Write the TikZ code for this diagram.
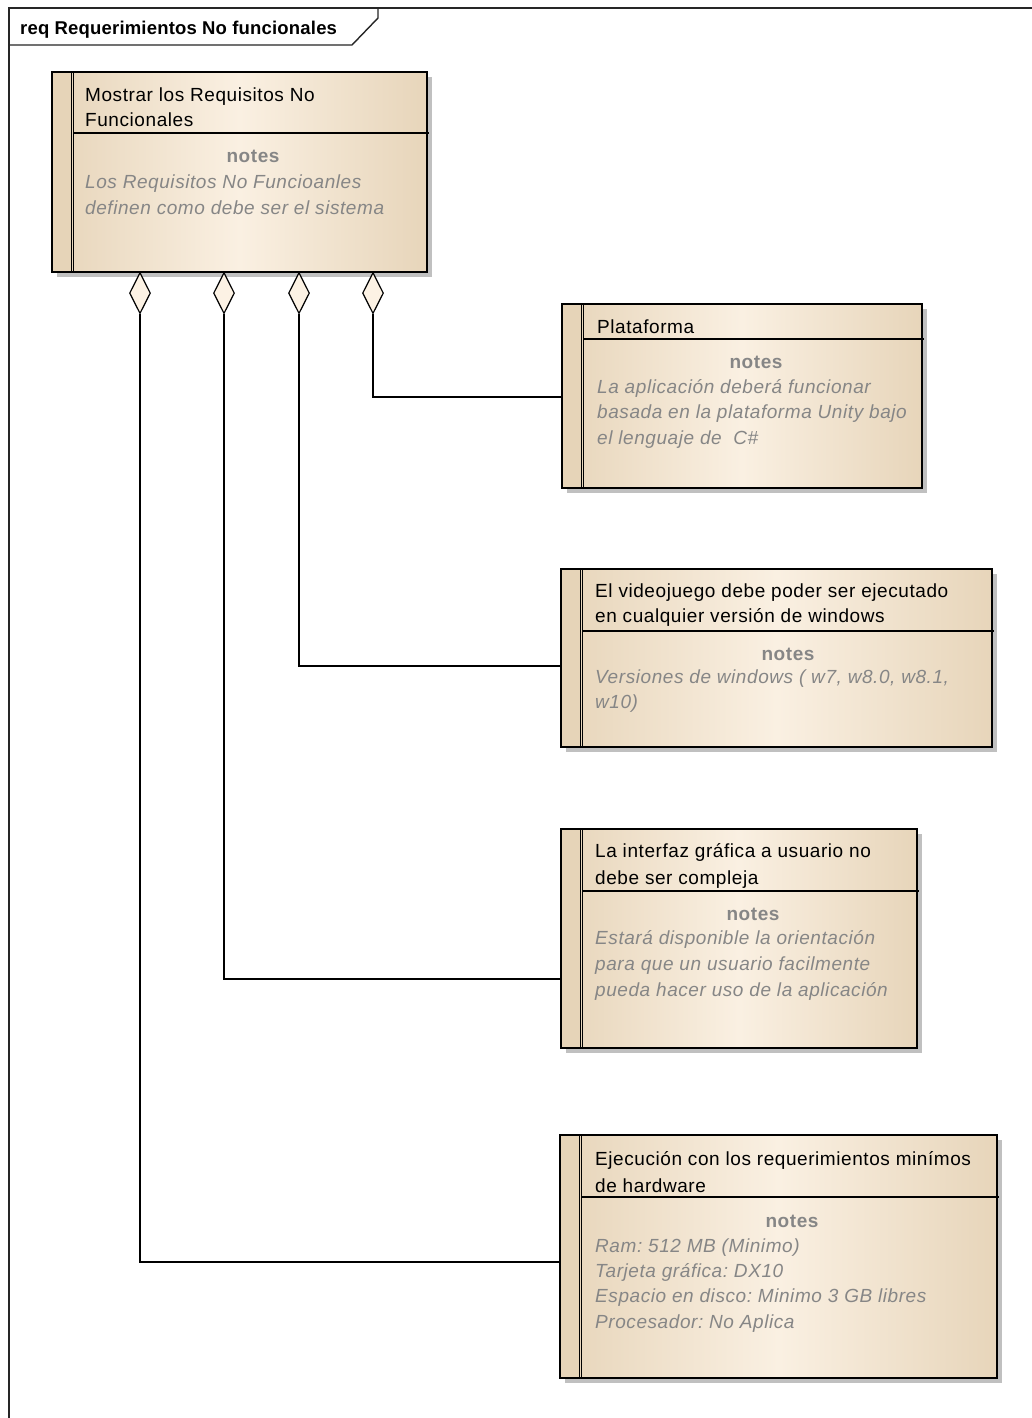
\documentclass[tikz,border=0pt]{standalone}
\usepackage{fontspec}
\setmainfont{Liberation Sans}
\newfontfamily\eatext[LetterSpace=3]{Liberation Sans}
\newfontfamily\eahead[LetterSpace=1]{Liberation Sans}
\usetikzlibrary{shapes.geometric}
\frenchspacing

\definecolor{reqedge}{HTML}{E7D5BA}
\definecolor{reqmid}{HTML}{FAF0E2}
\definecolor{reqstrip}{HTML}{E6D4B8}
\definecolor{reqshadow}{HTML}{C0C0C0}
\definecolor{notegray}{HTML}{868686}
\definecolor{diamfill}{HTML}{FCF2E4}

\tikzset{
  reqshape/.style={rectangle, inner sep=0pt, outer sep=0pt,
    left color=reqedge, right color=reqedge, middle color=reqmid},
  boxline/.style={line width=1.6pt, black},
  thinline/.style={line width=0.9pt, black},
  sepline/.style={line width=1.3pt, black},
  frameline/.style={line width=1.4pt, black!85},
  conn/.style={line width=1.3pt, black},
  aggr/.style={diamond, draw=black, line width=1.2pt, fill=diamfill,
    minimum width=21pt, minimum height=41pt, inner sep=0pt, anchor=north},
  headtxt/.style={inner sep=0pt, anchor=base west,
    font=\eahead\fontsize{18.5}{24}\selectfont\bfseries},
  titletxt/.style={inner sep=0pt, anchor=base west,
    font=\eatext\fontsize{19}{25}\selectfont},
  notelbl/.style={inner sep=0pt, anchor=base, text=notegray,
    font=\eatext\fontsize{19}{25}\selectfont\bfseries},
  notetxt/.style={inner sep=0pt, anchor=base west, text=notegray,
    font=\eatext\fontsize{19}{25}\selectfont\itshape},
}

% requirement element: name, left, top, right, bottom, y of the name compartment line
\newcommand\reqbox[6]{%
  \fill[reqshadow] (#2+5,#3+5) rectangle (#4+5,#5+5);
  \node[reqshape, anchor=north west,
        minimum width={(#4-#2)*1pt}, minimum height={(#5-#3)*1pt}] (#1) at (#2,#3) {};
  \fill[reqstrip] (#1.north west) rectangle ([xshift=19pt]#1.south west);
  \draw[thinline] ([xshift=19pt]#1.north west) -- ([xshift=19pt]#1.south west);
  \draw[thinline] ([xshift=21.5pt]#1.north west) -- ([xshift=21.5pt]#1.south west);
  \draw[boxline] (#1.north west) rectangle (#1.south east);
  \draw[sepline] (#2+21.5,#6) -- (#4+2,#6);
}

\begin{document}
\begin{tikzpicture}[x=1pt, y=-1pt]
\useasboundingbox (0,0) rectangle (1032,1418);
\fill[white] (0,0) rectangle (1032,1418);

% diagram frame with its name tab
\draw[frameline] (9,1420) -- (9,8) -- (1034,8);
\draw[frameline] (9,45) -- (352,45) -- (378,18) -- (378,8);
\node[headtxt] (frameTitle) at (20,35) {req Requerimientos No funcionales};

% requirement elements
\reqbox{main}{52}{72}{427}{272}{133}
\reqbox{plat}{562}{304}{922}{488}{339}
\reqbox{win}{561}{569}{992}{747}{631}
\reqbox{ui}{561}{829}{917}{1048}{891}
\reqbox{hw}{560}{1135}{997}{1378}{1197}

% texts of the main element
\node[titletxt] (mainT1) at (85,102) {Mostrar los Requisitos No};
\node[titletxt] (mainT2) at (85,127) {Funcionales};
\node[notelbl] (mainN) at (253,162) {notes};
\node[notetxt] (mainL1) at (85,188) {Los Requisitos No Funcioanles};
\node[notetxt] (mainL2) at (85,214) {definen como debe ser el sistema};

% Plataforma
\node[titletxt] (platT1) at (597,333) {Plataforma};
\node[notelbl] (platN) at (756,368) {notes};
\node[notetxt] (platL1) at (597,393) {La aplicación deberá funcionar};
\node[notetxt] (platL2) at (597,418) {basada en la plataforma Unity bajo};
\node[notetxt] (platL3) at (597,444) {el lenguaje de\ \ C\#};

% Windows versions
\node[titletxt] (winT1) at (595,597) {El videojuego debe poder ser ejecutado};
\node[titletxt] (winT2) at (595,622) {en cualquier versión de windows};
\node[notelbl] (winN) at (788,660) {notes};
\node[notetxt] (winL1) at (595,683) {Versiones de windows ( w7, w8.0, w8.1,};
\node[notetxt] (winL2) at (595,708) {w10)};

% user interface
\node[titletxt] (uiT1) at (595,857) {La interfaz gráfica a usuario no};
\node[titletxt] (uiT2) at (595,884) {debe ser compleja};
\node[notelbl] (uiN) at (753,920) {notes};
\node[notetxt] (uiL1) at (595,944) {Estará disponible la orientación};
\node[notetxt] (uiL2) at (595,970) {para que un usuario facilmente};
\node[notetxt] (uiL3) at (595,996) {pueda hacer uso de la aplicación};

% hardware
\node[titletxt] (hwT1) at (595,1165) {Ejecución con los requerimientos minímos};
\node[titletxt] (hwT2) at (595,1192) {de hardware};
\node[notelbl] (hwN) at (792,1227) {notes};
\node[notetxt] (hwL1) at (595,1252) {Ram: 512 MB (Minimo)};
\node[notetxt] (hwL2) at (595,1277) {Tarjeta gráfica: DX10};
\node[notetxt] (hwL3) at (595,1302) {Espacio en disco: Minimo 3 GB libres};
\node[notetxt] (hwL4) at (595,1328) {Procesador: No Aplica};

% aggregation ends on the main element
\node[aggr] (dHw) at (140,272) {};
\node[aggr] (dUi) at (224,272) {};
\node[aggr] (dWin) at (299,272) {};
\node[aggr] (dPlat) at (373,272) {};

% aggregation connectors
\draw[conn] (dPlat.south) |- (plat.west |- 0,397);
\draw[conn] (dWin.south) |- (win.west |- 0,666);
\draw[conn] (dUi.south) |- (ui.west |- 0,979);
\draw[conn] (dHw.south) |- (hw.west |- 0,1262);
\end{tikzpicture}
\end{document}
